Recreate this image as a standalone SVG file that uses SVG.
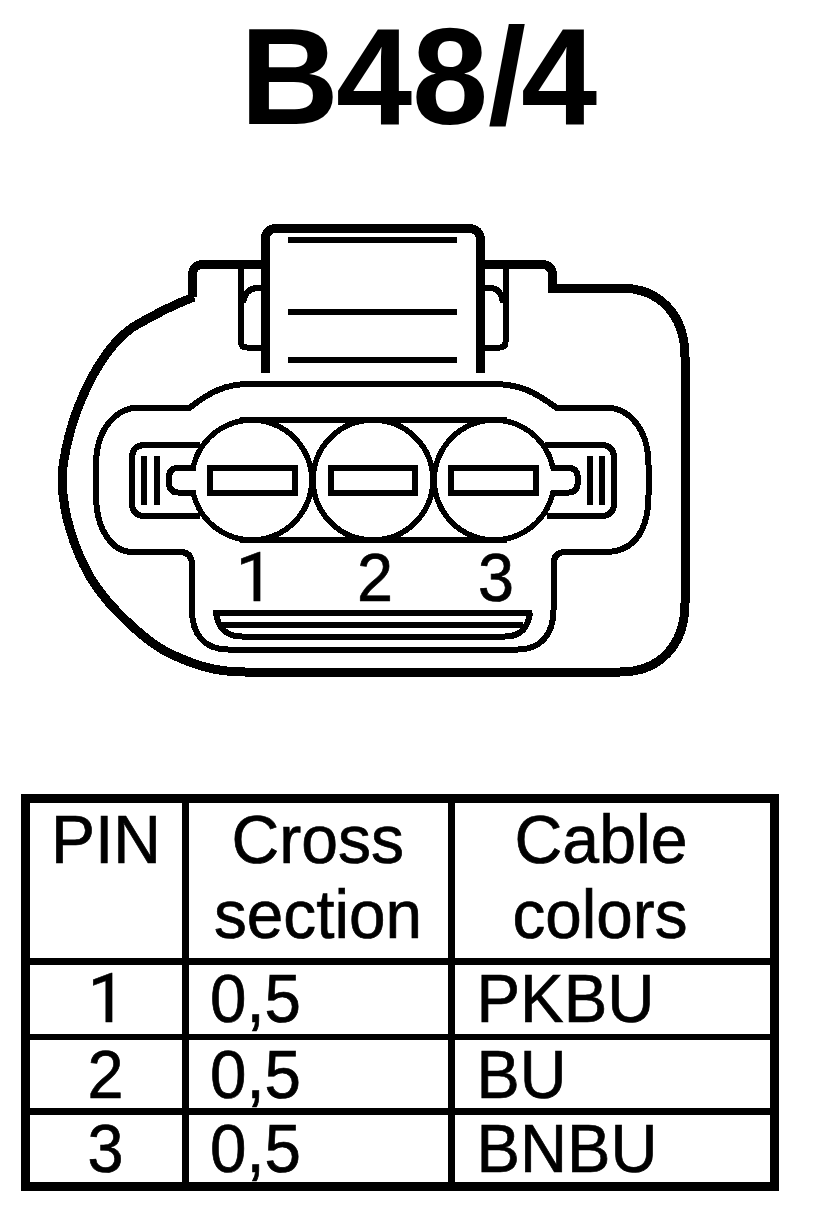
<svg xmlns="http://www.w3.org/2000/svg" width="816" height="1222" viewBox="0 0 816 1222">
<style>
text{font-family:"Liberation Sans",Arial,sans-serif;fill:#000}
.t{font-size:68px;stroke:#000;stroke-width:.7px}
.one{font-family:Roboto,"Liberation Sans",sans-serif;font-size:69px;stroke:#000;stroke-width:.5px}
.h{font-size:137px;font-weight:bold}
.s{fill:none;stroke:#000;shape-rendering:crispEdges}
.w9{stroke-width:9}
.w6{stroke-width:6}
.w5{stroke-width:5.500}
</style>
<rect width="816" height="1222" fill="#fff"/>
<text id="title" class="h" x="240 336 412 488 521" y="124">B48/4</text>
<g id="connector">
<path id="shell" class="s w9" d="M265 264.5H203Q192.500 264.500 192.500 276V297M194 297C170 306 150 317 133 327C100 350 70 410 62.500 470C60 510 75 550 90 577C110 610 150 645 173 655C195 665 215 672 245 672H620C660 672 685 645 685 603V357C685 315 660 288 620 288H552.500V276Q552.500 264.500 541 264.500H480.500"/>
<path id="latch" class="s w9" d="M265 373V241Q265 228.500 277 228.500H468Q480.500 228.500 480.500 241V373"/>
<path id="latch-lines" class="s w6" d="M288 239.500H457M288 312H457M288 360H457"/>
<path id="slots" class="s w6" d="M241 264.500V342Q241 347.500 247 347.500H265M265 288H258Q245 288 243 303M505.500 264.500V342Q505.500 347.500 500 347.500H480.500M480.500 288H490Q501 288 503 303"/>
<path id="body" class="s w6" d="M250 384H493C520 384 535 392 556 407.500H605C630 407.500 648.500 430 648.500 465V495C648.500 525 638 552 605 552H565Q553.500 552 553.500 565V610C553.500 635 540 649.500 518 649.500H228C205 649.500 192 635 192 610V565Q192 552 180 552H133C112 552 96 530 96 495V465C96 430 115 407.500 140 407.500H190C210 392 225 384 250 384Z"/>
<path id="housing" class="s w6" d="M200 445H145Q132 445 132 458V503Q132 516 145 516H200M545 445H601Q614 445 614 458V503Q614 516 601 516H547"/>
<path id="band" class="s w6" d="M240 420H507M240 540H507"/>
<path id="bars" class="s w6" d="M144 456V505M157 456V505M589.500 456V505M601.500 456V505"/>
<path id="tabs" class="s w6" d="M196 468H178Q168.500 468 168.500 480Q168.500 492.500 178 492.500H196M551 468H569Q578 468 578 480Q578 492.500 569 492.500H551"/>
<path id="channel" class="s w6" d="M213 613H532M222 625H523M216 613C218 628 226 636.500 242 636.500H505C520 636.500 528 628 530 613"/>
</g>
<g id="pin-1">
<path class="s w5" d="M193 468A60 60 0 1 1 193 492"/>
<rect class="s w6" x="210" y="468" width="85" height="25"/>
<text class="one" x="235.500" y="601">1</text>
</g>
<g id="pin-2">
<circle class="s w5" cx="373" cy="480" r="60"/>
<rect class="s w6" x="331" y="468" width="84" height="25"/>
<text class="t" x="357" y="601" textLength="36" lengthAdjust="spacingAndGlyphs">2</text>
</g>
<g id="pin-3">
<path class="s w5" d="M553 468A60 60 0 1 0 553 492"/>
<rect class="s w6" x="451" y="468" width="85" height="25"/>
<text class="t" x="478" y="601" textLength="36" lengthAdjust="spacingAndGlyphs">3</text>
</g>
<g id="table">
<rect class="s w9" x="25.500" y="798.500" width="749" height="387.500"/>
<path class="s" stroke-width="6.500" d="M185.700 798V1186M451.500 798V1186"/>
<path class="s" stroke-width="6.500" d="M25 961.500H775M25 1037H775M25 1111.500H775"/>
<text class="t" x="51" y="863" textLength="110" lengthAdjust="spacingAndGlyphs">PIN</text>
<text class="t" x="231.500" y="863" textLength="172.500" lengthAdjust="spacingAndGlyphs">Cross</text>
<text class="t" x="214" y="938" textLength="208" lengthAdjust="spacingAndGlyphs">section</text>
<text class="t" x="514.500" y="863" textLength="173" lengthAdjust="spacingAndGlyphs">Cable</text>
<text class="t" x="512.500" y="938" textLength="175" lengthAdjust="spacingAndGlyphs">colors</text>
<text class="one" x="87.500" y="1022">1</text>
<text class="t" x="210" y="1022" textLength="91" lengthAdjust="spacingAndGlyphs">0,5</text>
<text class="t" x="476.500" y="1022" textLength="178" lengthAdjust="spacingAndGlyphs">PKBU</text>
<text class="t" x="87.500" y="1098" textLength="36" lengthAdjust="spacingAndGlyphs">2</text>
<text class="t" x="210" y="1098" textLength="91" lengthAdjust="spacingAndGlyphs">0,5</text>
<text class="t" x="476.500" y="1098" textLength="90" lengthAdjust="spacingAndGlyphs">BU</text>
<text class="t" x="87.500" y="1172" textLength="36" lengthAdjust="spacingAndGlyphs">3</text>
<text class="t" x="210" y="1172" textLength="91" lengthAdjust="spacingAndGlyphs">0,5</text>
<text class="t" x="476.500" y="1172" textLength="181" lengthAdjust="spacingAndGlyphs">BNBU</text>
</g>
</svg>
